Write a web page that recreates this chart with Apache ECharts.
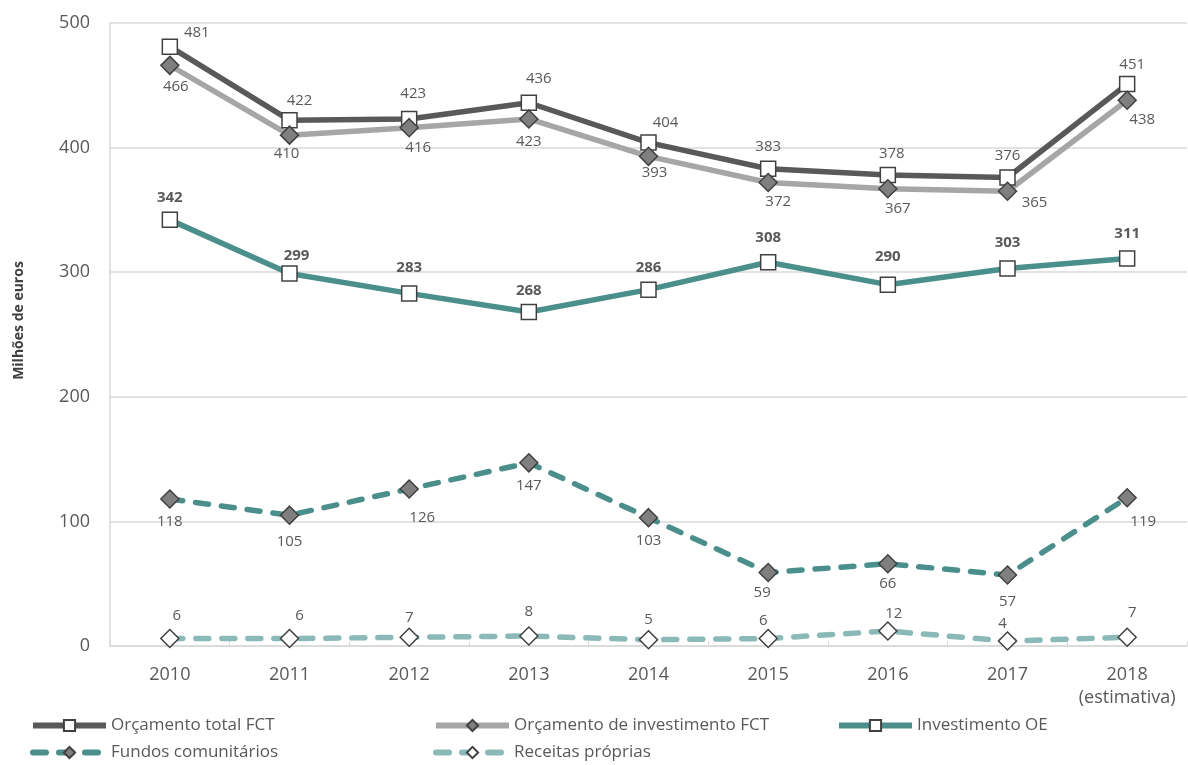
<!DOCTYPE html>
<html>
<head>
<meta charset="utf-8">
<script src="https://cdn.jsdelivr.net/npm/echarts@6/dist/echarts.min.js"></script>
<style>
  html, body { margin: 0; padding: 0; background: #fff; }
  #chart { width: 1188px; height: 765px; }
</style>
</head>
<body>
<div id="chart"></div>
<script>
var anos = ['2010', '2011', '2012', '2013', '2014', '2015', '2016', '2017', '2018\n(estimativa)'];
var orcamentoTotal = [481, 422, 423, 436, 404, 383, 378, 376, 451];
var orcamentoInvest = [466, 410, 416, 423, 393, 372, 367, 365, 438];
var investimentoOE = [342, 299, 283, 268, 286, 308, 290, 303, 311];
var fundosComunitarios = [118, 105, 126, 147, 103, 59, 66, 57, 119];
var receitasProprias = [6, 6, 7, 8, 5, 6, 12, 4, 7];

var fonte = '"Open Sans", "Noto Sans", sans-serif';
var cinza = '#595959';

// ajustes finos das etiquetas (offset por ponto, como no original)
var withOffsets = function (values, offsets) {
    return values.map(function (v, i) {
        if (offsets[i]) {
            return { value: v, label: { offset: offsets[i] } };
        }
        return v;
    });
};

var mkLabel = function (pos, bold) {
    return {
        show: true,
        position: pos,
        fontFamily: fonte,
        fontSize: 15,
        fontWeight: bold ? 'bold' : 'normal',
        color: cinza,
        distance: 6
    };
};

var mkSeries = function (name, data, color, dashed, symbol, fill, size, label) {
    return {
        name: name,
        type: 'line',
        data: data,
        symbol: symbol,
        symbolSize: size,
        showAllSymbol: true,
        z: dashed ? 2 : 3,
        lineStyle: { color: color, width: 5.5, type: dashed ? [13, 13] : 'solid', cap: dashed ? 'round' : 'butt' },
        itemStyle: { color: fill, borderColor: '#404040', borderWidth: 1.5 },
        label: label,
        emphasis: { disabled: true }
    };
};

var diamond = 'path://M0,-1L1,0L0,1L-1,0Z';

var series = [
    mkSeries('Orçamento total FCT',
        withOffsets(orcamentoTotal, { 0: [27, 8], 1: [10, 2], 2: [4, -3], 3: [10, -2], 4: [17, 2], 6: [4, 0], 8: [5, 2] }),
        '#595959', false, 'rect', '#ffffff', 15,
        mkLabel('top', false)),
    mkSeries('Orçamento de investimento FCT',
        withOffsets(orcamentoInvest, { 0: [6, -2], 1: [-3, -5], 2: [9, -3], 4: [6, -7], 5: [10, -4], 6: [10, -3], 7: [27, -12], 8: [15, -4] }),
        '#a6a6a6', false, diamond, '#7f7f7f', 18,
        mkLabel('bottom', false)),
    mkSeries('Investimento OE',
        withOffsets(investimentoOE, { 1: [7, 4], 2: [0, -4], 5: [0, -3], 6: [0, -6], 7: [0, -4], 8: [0, -3] }),
        '#4a8f8c', false, 'rect', '#ffffff', 15,
        mkLabel('top', true)),
    mkSeries('Fundos comunitários',
        withOffsets(fundosComunitarios, { 1: [0, 3], 2: [13, 5], 5: [-6, -3], 6: [0, -3], 7: [0, 4], 8: [16, 1] }),
        '#4a8f8c', true, diamond, '#7f7f7f', 18,
        mkLabel('bottom', false)),
    mkSeries('Receitas próprias',
        withOffsets(receitasProprias, { 0: [7, 0], 1: [10, 0], 2: [0, 4], 3: [0, -1], 4: [0, 3], 5: [-5, 5], 6: [6, 6], 7: [-5, 6], 8: [5, -1] }),
        '#8bb9b8', true, diamond, '#ffffff', 18,
        mkLabel('top', false))
];

var legendItem = function (name, left, top) {
    return {
        data: [name],
        left: left,
        top: top,
        padding: 0,
        itemWidth: 73,
        itemHeight: 14,
        itemGap: 4,
        lineStyle: { width: 6 },
        textStyle: { fontFamily: fonte, fontSize: 17, color: cinza },
        selectedMode: false
    };
};

var option = {
    backgroundColor: '#ffffff',
    animation: false,
    grid: { left: 110, right: 1, top: 23, bottom: 119 },
    legend: [
        legendItem('Orçamento total FCT', 30, 717),
        legendItem('Orçamento de investimento FCT', 433, 717),
        legendItem('Investimento OE', 836, 717),
        legendItem('Fundos comunitários', 30, 744),
        legendItem('Receitas próprias', 433, 744)
    ],
    xAxis: {
        type: 'category',
        data: anos,
        boundaryGap: true,
        axisLine: { lineStyle: { color: '#d9d9d9', width: 1.5 } },
        axisTick: { show: true, inside: true, length: 5, lineStyle: { color: '#d9d9d9' } },
        axisLabel: { interval: 0, fontFamily: fonte, fontSize: 18, color: cinza, margin: 17, lineHeight: 23 }
    },
    yAxis: {
        type: 'value',
        min: 0,
        max: 500,
        interval: 100,
        name: 'Milhões de euros',
        nameLocation: 'middle',
        nameGap: 84,
        nameTextStyle: { fontFamily: fonte, fontSize: 14, fontWeight: 'bold', color: '#404040', padding: [0, 0, 0, 28] },
        axisLine: { show: true, lineStyle: { color: '#d9d9d9', width: 1.5 } },
        axisTick: { show: false },
        splitLine: { lineStyle: { color: '#d9d9d9', width: 1.5 } },
        axisLabel: { fontFamily: fonte, fontSize: 18, color: cinza, margin: 20 }
    },
    series: series
};

var myChart = echarts.init(document.getElementById('chart'));
myChart.setOption(option);
</script>
</body>
</html>
